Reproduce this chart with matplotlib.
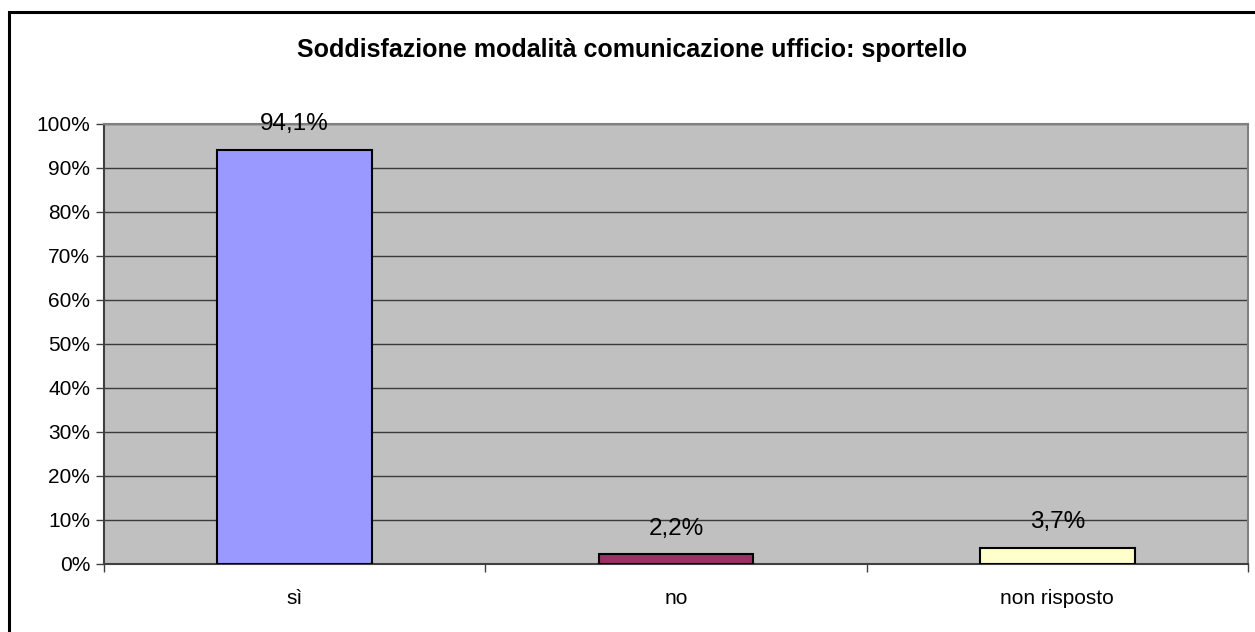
import numpy as np
import matplotlib.pyplot as plt
from matplotlib.patches import Rectangle
from matplotlib.ticker import PercentFormatter

plt.rcParams['font.family'] = ['Liberation Sans', 'DejaVu Sans']

# ---- Dati ---- #
categorie = ["sì", "no", "non risposto"]
percentuali = [94.1, 2.2, 3.7]
colori = ["#9999FF", "#993366", "#FFFFCC"]
titolo = "Soddisfazione modalità comunicazione ufficio: sportello"

fig = plt.figure(figsize=(12.55, 6.32), dpi=100)
ax = fig.add_axes([0.0829, 0.1076, 0.9944 - 0.0829, 0.8038 - 0.1076])

# Cornice esterna del grafico
fig.patches.append(Rectangle((9 / 1255, -0.05), 1.2, 1 - 12 / 632 + 0.05,
                             transform=fig.transFigure, fill=False,
                             edgecolor="black", linewidth=2.2, zorder=10))

ax.set_facecolor("#C0C0C0")
x = np.arange(len(categorie))
barre = ax.bar(x, [p / 100 for p in percentuali], width=0.405, color=colori,
               edgecolor="black", linewidth=1.5, zorder=3)

for b, p in zip(barre, percentuali):
    ax.annotate(f"{p:.1f}%".replace(".", ","),
                (b.get_x() + b.get_width() / 2, b.get_height()),
                xytext=(0, 10.5), textcoords="offset points",
                ha="center", va="bottom", fontsize=17.5)

ax.set_xlim(-0.5, 2.5)
ax.set_ylim(0, 1)
ax.set_yticks(np.arange(0, 1.01, 0.1))
ax.yaxis.set_major_formatter(PercentFormatter(1.0, decimals=0))
ax.set_xticks(x)
ax.set_xticklabels(categorie)
ax.set_xticks([-0.5, 0.5, 1.5, 2.5], minor=True)
ax.tick_params(axis="x", which="major", length=0, pad=18, labelsize=15)
ax.tick_params(axis="x", which="minor", length=6, width=1, color="#404040")
ax.tick_params(axis="y", length=6, width=1, color="#404040", labelsize=15, pad=4)

ax.grid(axis="y", color="#3a3a3a", linewidth=1, zorder=1)
ax.set_axisbelow(True)

for lato in ["left", "bottom"]:
    ax.spines[lato].set_color("#404040")
    ax.spines[lato].set_linewidth(1.5)
for lato in ["top", "right"]:
    ax.spines[lato].set_color("#808080")
    ax.spines[lato].set_linewidth(1.5)

fig.text(0.5 * (9 / 1255 + 1), 1 - 50 / 632, titolo, ha="center", va="center",
         fontsize=18, fontweight="bold")

fig.savefig("out.png", dpi=100)
